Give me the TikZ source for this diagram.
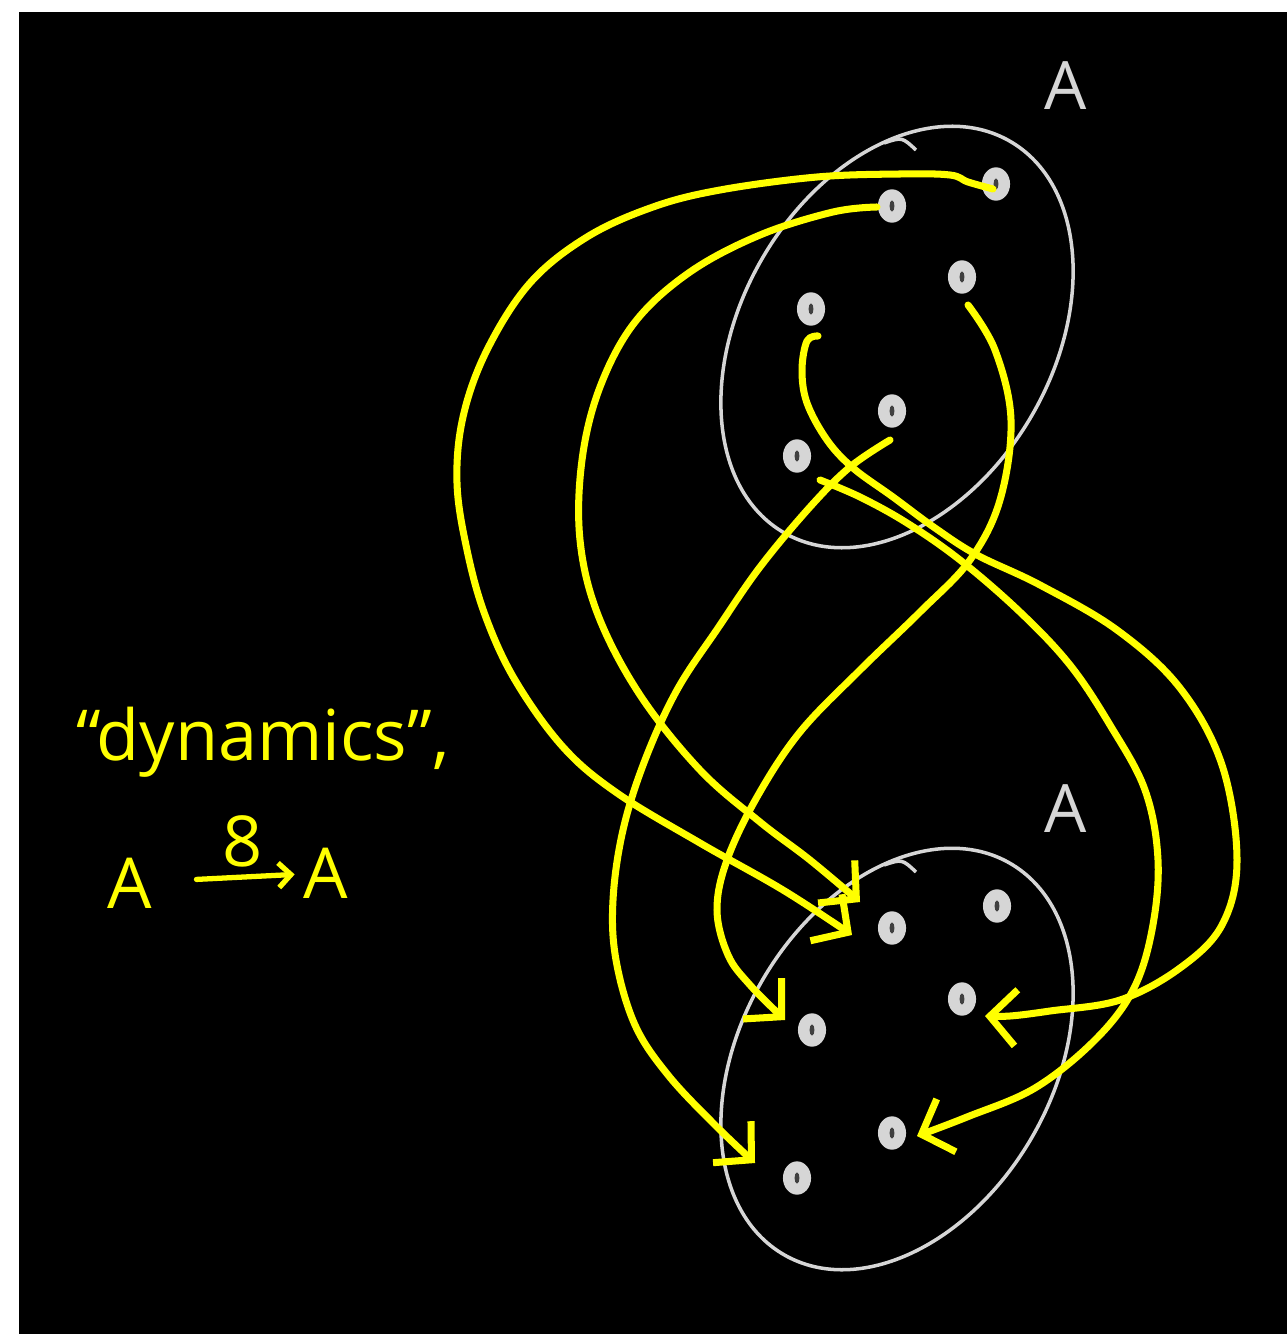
\documentclass[tikz,border=0pt]{standalone}
\usepackage{fontspec}
\setmainfont{Open Sans}
\usetikzlibrary{arrows.meta, shapes.geometric}
\definecolor{chalk}{RGB}{255,255,0}
\definecolor{dotgray}{RGB}{214,214,214}
\tikzset{
  map/.style = {draw = chalk, line width = 4pt, line cap = round, line join = round, -{Straight Barb[length = 15pt, width = 32pt]}},
  ring/.style = {draw = dotgray, line width = 2pt},
  elem/.style = {ellipse, fill = dotgray, minimum width = 16pt, minimum height = 19pt, inner sep = 0pt,
    path picture = {\fill [black!75] (path picture bounding box.center) ellipse (1.4pt and 3.2pt);}},
  chalk text/.style = {text = chalk, font = \fontsize{40}{48}\selectfont},
  set label/.style = {text = dotgray, font = \fontsize{38}{44}\selectfont}
}
\begin{document}
\begin{tikzpicture}[x=0.02cm, y=-0.02cm]
\useasboundingbox (0,0) rectangle (1287,1334);
\fill [white] (0,0) rectangle (1287,1334);
\fill [black] (19,12) rectangle (1287,1334);

% the set A, twice
\draw [ring, rotate around={60:(897,337)}] (897,337) ellipse (226 and 156);
\draw [ring] (884,143) .. controls (902,137) .. (916,150);
\draw [ring, rotate around={60:(897,1059)}] (897,1059) ellipse (226 and 156);
\draw [ring] (884,865) .. controls (902,859) .. (916,872);
\node [set label, anchor = base] (topA) at (1066,110) {A};
\node [set label, anchor = base] (botA) at (1066,832) {A};

\node [elem] (a1) at (996,184) {};
\node [elem] (a2) at (892,206) {};
\node [elem] (a3) at (962,277) {};
\node [elem] (a4) at (811,309) {};
\node [elem] (a5) at (892,411) {};
\node [elem] (a6) at (797,456) {};
\node [elem] (b1) at (997,906) {};
\node [elem] (b2) at (892,928) {};
\node [elem] (b3) at (962,999) {};
\node [elem] (b4) at (812,1030) {};
\node [elem] (b5) at (892,1133) {};
\node [elem] (b6) at (797,1178) {};

% where each point goes
\draw [map] plot [smooth, tension = 0.6] coordinates {([shift={(-3,5)}]a1.center) (968,182) (950,175) (900,174) (817,177) (720,190) (653,207) (587,237) (530,283) (487,350) (463,417) (457,483) (467,550) (485,615) (515,680) (563,747) (617,793) (700,843) (783,890) ([shift={(-40,7)}]b2.center)};
\draw [map] plot [smooth, tension = 0.6] coordinates {([shift={(-15,1)}]a2.center) (833,212) (760,235) (690,272) (635,322) (600,387) (582,460) (580,540) (598,615) (640,695) (700,770) (760,822) (810,860) ([shift={(-32,-26)}]b2.center)};
\draw [map] plot [smooth, tension = 0.6] coordinates {([shift={(6,28)}]a3.center) (995,350) (1011,420) (1000,500) (970,560) (920,612) (860,670) (800,732) (757,797) (727,860) (717,910) (728,955) (750,985) ([shift={(-27,-10)}]b4.center)};
\draw [map] plot [smooth, tension = 0.6] coordinates {([shift={(7,27)}]a4.center) (807,341) (802,370) (807,403) (827,440) (853,468) (893,497) (935,528) (977,555) (1040,585) (1117,630) (1180,688) (1222,765) (1237,860) (1222,925) (1180,968) (1120,1000) (1050,1011) (1010,1016) ([shift={(23,17)}]b3.center)};
\draw [map] plot [smooth, tension = 0.6] coordinates {([shift={(-2,29)}]a5.center) (850,467) (810,507) (760,567) (718,628) (677,690) (645,760) (623,830) (613,900) (616,960) (635,1025) (668,1075) (715,1125) ([shift={(-42,-15)}]b6.center)};
\draw [map] plot [smooth, tension = 0.6] coordinates {([shift={(23,24)}]a6.center) (860,497) (907,523) (960,560) (1020,612) (1070,665) (1110,725) (1145,790) (1158,860) (1152,930) (1133,990) (1095,1040) (1035,1088) (967,1117) ([shift={(25,3)}]b5.center)};

% caption
\node [chalk text, anchor = base west] (word) at (70,760) {“dynamics”,};
\node [chalk text, anchor = base, inner sep = 2pt] (dom) at (130,908) {A};
\node [chalk text, anchor = base, inner sep = 2pt] (cod) at (326,898) {A};
\draw [chalk, line width = 3pt, line cap = round, shorten < = 23pt, shorten > = 3pt, -{Straight Barb[length = 7pt, width = 14pt]}] (dom) -- node [chalk text, above, pos = 0.6, inner sep = 4pt] (lbl) {8} (cod);
\end{tikzpicture}
\end{document}
